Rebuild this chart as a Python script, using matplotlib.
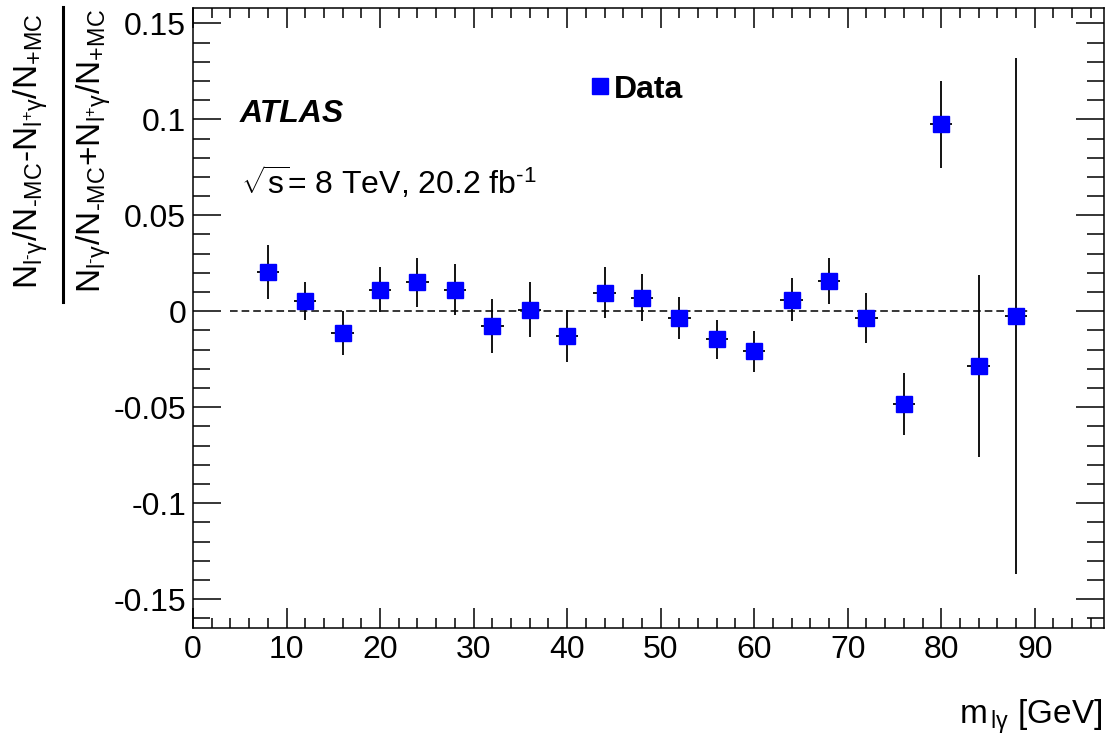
import numpy as np
import matplotlib
matplotlib.use("Agg")
import matplotlib.pyplot as plt
from matplotlib.ticker import MultipleLocator

plt.rcParams['font.family'] = ['Liberation Sans', 'DejaVu Sans']
plt.rcParams['mathtext.fontset'] = 'custom'
plt.rcParams['mathtext.rm'] = 'Liberation Sans'
plt.rcParams['mathtext.it'] = 'Liberation Sans:italic'
plt.rcParams['mathtext.bf'] = 'Liberation Sans:bold'

# charge asymmetry per m(l gamma) bin
mass = [8, 12, 16, 20, 24, 28, 32, 36, 40, 44, 48, 52, 56, 60, 64, 68, 72, 76, 80, 84, 88]
asym = [0.0205, 0.0054, -0.0113, 0.0113, 0.0150, 0.0113, -0.0076, 0.0009, -0.0128,
        0.0097, 0.0070, -0.0034, -0.0146, -0.0208, 0.0061, 0.0156, -0.0034,
        -0.0483, 0.0973, -0.0285, -0.0026]
asym_err = [0.0141, 0.0099, 0.0113, 0.0118, 0.0128, 0.0133, 0.0141, 0.0142, 0.0135,
            0.0132, 0.0123, 0.0109, 0.0101, 0.0107, 0.0110, 0.0120, 0.0131,
            0.0160, 0.0226, 0.0472, 0.1345]
xhalf = 1.2
fs = 23

fig = plt.figure(figsize=(11.15, 7.39), dpi=100)
ax = fig.add_axes([0.1731, 0.1502, 0.8170, 0.8390])

ax.plot([4, 89.5], [0, 0], ls=(0, (5, 2.6)), color='black', lw=1.1, zorder=1)
ax.errorbar(mass, asym, yerr=asym_err, xerr=xhalf, fmt='s', color='black',
            ecolor='black', elinewidth=1.3, capsize=0, markersize=11.5,
            markerfacecolor='#0000ff', markeredgecolor='#0000ff', zorder=3)

ax.set_xlim(0, 97.4)
ax.set_ylim(-0.165, 0.158)

ax.xaxis.set_major_locator(MultipleLocator(10))
ax.xaxis.set_minor_locator(MultipleLocator(2))
ax.yaxis.set_major_locator(MultipleLocator(0.05))
ax.yaxis.set_minor_locator(MultipleLocator(0.01))
ax.yaxis.set_major_formatter(matplotlib.ticker.FuncFormatter(
    lambda v, p: '0' if abs(v) < 1e-9 else ('%g' % round(v, 3))))

ax.tick_params(axis='both', which='both', direction='in', top=True, right=True,
               labelsize=fs, width=1.1, colors='black')
ax.tick_params(axis='x', which='major', length=14.5, pad=5)
ax.tick_params(axis='x', which='minor', length=7)
ax.tick_params(axis='y', which='major', length=20, pad=5)
ax.tick_params(axis='y', which='minor', length=12)
for s in ax.spines.values():
    s.set_linewidth(1.1)

fig.text(0.215, 0.835, 'ATLAS', fontsize=fs, fontweight='bold', fontstyle='italic')
fig.text(0.216, 0.737, r'$\sqrt{\mathregular{s}}$' + r'= 8 TeV, 20.2 fb$^{\text{-}1}$',
         fontsize=fs)

# legend
ax.plot([0.5385], [0.8836], 's', color='#0000ff', markersize=11.5,
        transform=fig.transFigure, clip_on=False)
fig.text(0.551, 0.867, 'Data', fontsize=fs, fontweight='bold')

# axis titles
fig.text(0.989, 0.021, r'm$_{\mathregular{\,l\gamma}}$ [GeV]', ha='right',
         fontsize=fs + 1)
num = r'$\mathregular{N_{l^{\text{-}}\gamma}/N_{\text{-}MC}\text{-}N_{l^{+}\gamma}/N_{+MC}}$'
den = r'$\mathregular{N_{l^{\text{-}}\gamma}/N_{\text{-}MC}\text{+}N_{l^{+}\gamma}/N_{+MC}}$'
fig.text(0.028, 0.796, num, rotation=90, ha='center', va='center', fontsize=fs + 1)
fig.text(0.084, 0.796, den, rotation=90, ha='center', va='center', fontsize=fs + 1)
fig.add_artist(plt.Line2D([0.0565, 0.0565], [0.592, 0.990], color='black', lw=2.2))

fig.savefig('out.png', dpi=100)
